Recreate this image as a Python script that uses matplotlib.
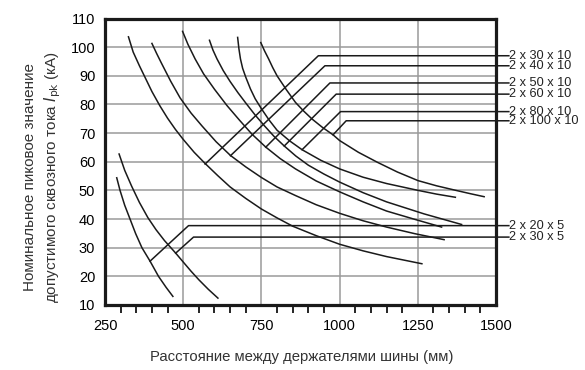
import matplotlib
matplotlib.use('Agg')
import matplotlib.pyplot as plt

plt.rcParams['font.family'] = ['Liberation Sans', 'DejaVu Sans']

# curves: span between supports (mm) -> rated peak current (kA)
x_30x10 = [325, 340, 360, 380, 400, 425, 450, 475, 500, 535, 570, 610, 650, 700, 750, 800, 850, 925, 1000, 1075, 1150, 1263]
y_30x10 = [103.6, 98.3, 93.5, 89.0, 84.5, 79.6, 75.2, 71.3, 67.8, 63.3, 59.4, 55.2, 51.2, 47.2, 43.5, 40.4, 37.5, 34.2, 31.2, 28.9, 26.9, 24.4]
x_40x10 = [400, 415, 430, 460, 490, 525, 560, 605, 651, 700, 750, 800, 859, 925, 1000, 1075, 1150, 1240, 1334]
y_40x10 = [101.3, 97.8, 94.5, 88.1, 82.3, 77.0, 72.5, 67.0, 62.2, 58.2, 54.5, 51.2, 48.2, 45.0, 42.0, 39.4, 37.2, 34.9, 32.8]
x_50x10 = [498, 515, 538, 565, 600, 640, 680, 720, 764, 810, 859, 925, 1000, 1075, 1150, 1240, 1326]
y_50x10 = [105.5, 101.0, 95.9, 90.7, 85.3, 79.6, 74.5, 69.6, 65.1, 61.1, 57.5, 53.3, 49.5, 46.0, 42.8, 39.9, 37.2]
x_60x10 = [584, 595, 608, 628, 650, 675, 700, 730, 760, 790, 823, 860, 900, 950, 1000, 1075, 1150, 1270, 1390]
y_60x10 = [102.4, 99.0, 95.9, 91.8, 88.0, 84.1, 80.5, 76.3, 72.5, 68.9, 65.5, 62.0, 58.8, 55.7, 52.9, 49.2, 46.0, 41.8, 38.1]
x_80x10 = [674, 678, 683, 690, 700, 715, 730, 750, 775, 800, 840, 880, 940, 1000, 1075, 1150, 1251, 1310, 1370]
y_80x10 = [103.4, 99.5, 95.9, 92.6, 89.5, 85.4, 82.0, 78.5, 74.5, 71.0, 67.3, 64.2, 60.5, 57.5, 54.6, 52.4, 50.0, 48.7, 47.6]
x_100x10 = [748, 760, 773, 786, 800, 830, 859, 885, 912, 945, 979, 1000, 1060, 1121, 1185, 1251, 1310, 1372, 1420, 1462]
y_100x10 = [101.6, 98.7, 95.9, 92.9, 90.0, 85.1, 80.7, 77.7, 74.9, 72.0, 69.4, 67.4, 63.3, 59.8, 56.4, 53.4, 51.6, 50.0, 48.8, 47.8]
x_20x5 = [287.5, 298, 313, 330, 348, 368, 394, 421, 445, 467]
y_20x5 = [54.4, 50.0, 44.8, 40.0, 34.9, 30.0, 25.3, 20.0, 16.2, 13.0]
x_30x5 = [295, 313, 335, 360, 387, 413, 440, 476, 500, 525, 550, 580, 611]
y_30x5 = [62.7, 57.0, 51.5, 45.8, 40.5, 36.3, 32.5, 28.1, 25.0, 21.8, 18.8, 15.5, 12.4]

curves = [(x_30x10, y_30x10), (x_40x10, y_40x10), (x_50x10, y_50x10),
          (x_60x10, y_60x10), (x_80x10, y_80x10), (x_100x10, y_100x10),
          (x_20x5, y_20x5), (x_30x5, y_30x5)]

# leader lines: label, point on the curve, corner, level of the label
labels = ['2 x 30 x 10', '2 x 40 x 10', '2 x 50 x 10', '2 x 60 x 10',
          '2 x 80 x 10', '2 x 100 x 10', '2 x 20 x 5', '2 x 30 x 5']
lead_start_x = [570, 651, 764, 823, 880, 979, 394, 476]
lead_start_y = [59.2, 62.1, 65.1, 65.5, 64.2, 69.4, 25.3, 28.1]
lead_corner_x = [932, 953, 969, 989, 1003, 1021, 517, 533]
lead_level = [97.0, 93.5, 87.5, 83.6, 77.5, 74.3, 37.7, 33.7]
lead_end_x = 1541

fig = plt.figure(figsize=(5.85, 3.70), dpi=100)
ax = fig.add_axes([0.1795, 0.1757, 0.6684, 0.7743])

for xs, ys in curves:
    ax.plot(xs, ys, color='#1a1a1a', lw=1.1)

for i in range(len(labels)):
    ax.plot([lead_start_x[i], lead_corner_x[i], lead_end_x],
             [lead_start_y[i], lead_level[i], lead_level[i]],
             color='#1a1a1a', lw=1.1, clip_on=False)
    ax.text(lead_end_x + 2, lead_level[i], labels[i], fontsize=9.2,
            va='center', ha='left', color='#222222')

ax.set_xlim(250, 1500)
ax.set_ylim(10, 110)
ax.set_xticks([250, 500, 750, 1000, 1250, 1500])
ax.set_xticks([v for v in range(300, 1500, 50) if v % 250 != 0], minor=True)
ax.set_yticks(range(10, 111, 10))
ax.grid(True, which='major', color='#9a9a9a', lw=1.1)
ax.set_axisbelow(True)
ax.tick_params(axis='x', which='major', length=0, pad=10, labelsize=10.5)
ax.tick_params(axis='x', which='minor', length=6, width=1.2, direction='out')
ax.tick_params(axis='y', length=0, pad=7, labelsize=10.5)
for s in ax.spines.values():
    s.set_linewidth(2.3)
    s.set_color('#1a1a1a')

fig.text(0.074, 0.522, 'Номинальное пиковое значение\nдопустимого сквозного тока $I_{\\rm pk}$ (кА)',
         rotation=90, fontsize=11, color='#333333', ha='center', va='center',
         linespacing=1.4)
fig.text(0.515, 0.035, 'Расстояние между держателями шины (мм)', fontsize=10.7,
         color='#333333', ha='center', va='center')

plt.savefig('out.png', dpi=100)
